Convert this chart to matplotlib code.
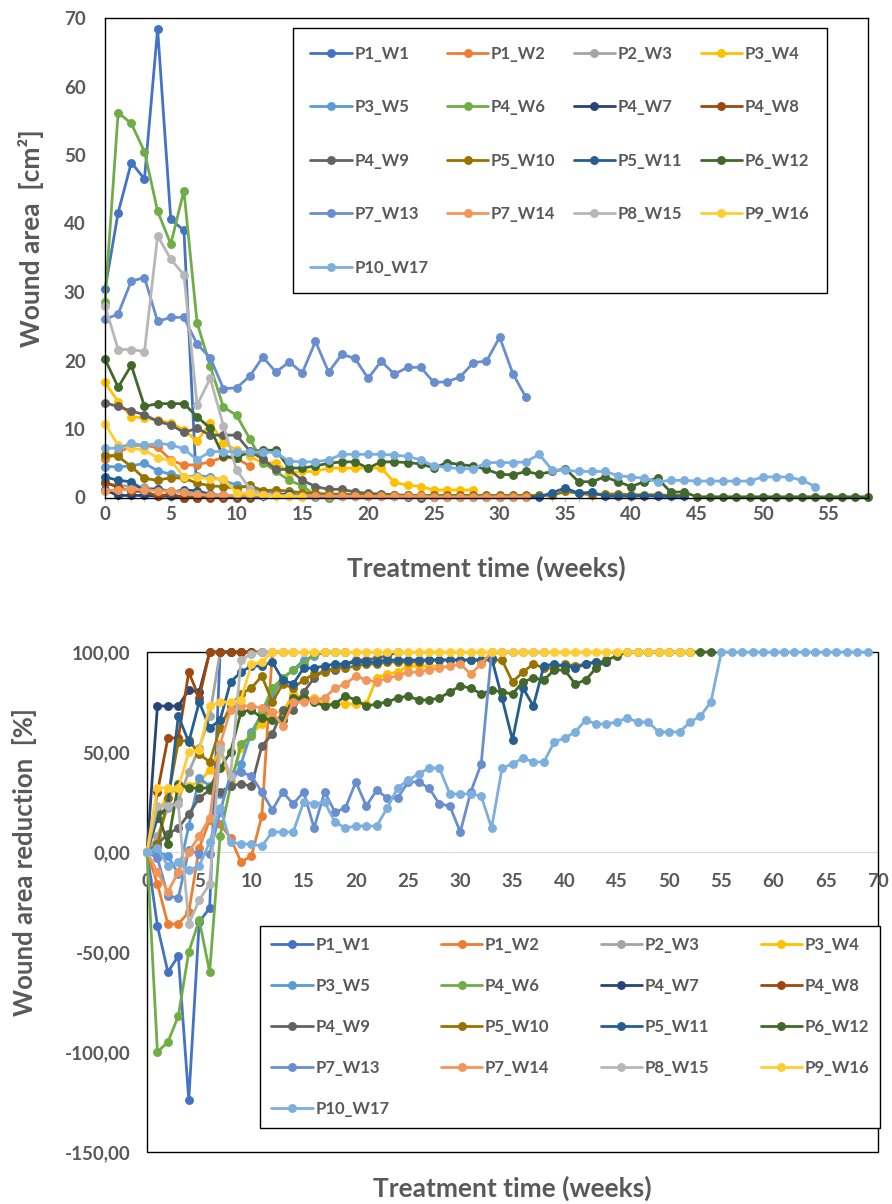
"""Wound area and wound area reduction per wound over treatment time (two stacked panels)."""
import matplotlib.pyplot as plt
from matplotlib.patches import Rectangle
from matplotlib.ticker import FuncFormatter, MultipleLocator

plt.rcParams["font.family"] = ["Lato", "DejaVu Sans"]
plt.rcParams["font.weight"] = "bold"

TEXT = "#595959"

LABELS = ["P1_W1", "P1_W2", "P2_W3", "P3_W4", "P3_W5", "P4_W6", "P4_W7", "P4_W8", "P4_W9",
          "P5_W10", "P5_W11", "P6_W12", "P7_W13", "P7_W14", "P8_W15", "P9_W16", "P10_W17"]
COLORS = ["#4472C4", "#ED7D31", "#A5A5A5", "#FFC000", "#5B9BD5", "#70AD47", "#264478", "#9E480E",
          "#636363", "#997300", "#255E91", "#43682B", "#698ED0", "#F1975A", "#B7B7B7", "#FFCD33",
          "#7CAFDD"]

# --- top panel: wound area [cm2] per observation (index = week) ---
AREA_P1_W1 = [30.4, 41.6, 48.9, 46.5, 68.4, 40.6, 39.0, 0.0]
AREA_P1_W2 = [5.6, 6.5, 7.6, 7.6, 7.3, 5.5, 4.7, 4.8, 5.2, 5.9, 5.7, 4.6]
AREA_P2_W3 = [2.0, 1.8, 1.6, 1.5, 1.2, 1.0, 0.6, 0.0]
AREA_P3_W4 = [16.8, 14.0, 11.8, 11.6, 11.3, 10.9, 9.9, 8.2, 10.9, 8.0,
              6.9, 6.0, 5.0, 5.1, 3.6, 3.8, 3.8, 4.3, 4.3, 4.3,
              4.3, 4.3, 2.2, 1.8, 1.6, 1.1, 1.1, 1.1, 1.1]
AREA_P3_W5 = [4.5, 4.5, 4.6, 5.0, 3.9, 3.4, 3.0, 3.2, 3.0, 2.5,
              1.8, 1.4, 1.0, 0.6, 0.4, 0.2, 0.1, 0.0]
AREA_P4_W6 = [28.6, 56.2, 54.6, 50.5, 41.8, 37.0, 44.8, 25.5, 19.2, 13.2,
              12.0, 8.6, 5.1, 3.8, 2.5, 1.7, 0.3, 0.0]
AREA_P4_W7 = [1.1, 0.3, 0.3, 0.3, 0.2, 0.2, 0.0]
AREA_P4_W8 = [2.2, 1.5, 0.9, 0.9, 0.2, 0.5, 0.0, 0.0, 0.0, 0.0, 0.0, 0.0]
AREA_P4_W9 = [13.8, 13.3, 12.6, 12.1, 11.1, 10.6, 9.5, 10.1, 9.1, 9.1,
              9.1, 6.8, 5.6, 4.1, 4.1, 2.5, 1.6, 1.2, 1.2, 0.8,
              0.6, 0.5, 0.4, 0.3, 0.0]
AREA_P5_W10 = [6.2, 6.0, 4.5, 2.8, 2.5, 2.9, 2.8, 2.1, 1.7, 1.6,
               1.3, 1.8, 1.0, 1.1, 0.9, 0.7, 0.6, 0.5, 0.5, 0.4,
               0.4, 0.3, 0.3, 0.3, 0.3, 0.3, 0.3, 0.3, 0.3, 0.3,
               0.3, 0.3, 0.3, 0.3, 0.3, 0.9, 0.6, 0.4, 0.5, 0.5,
               0.4, 0.4, 0.4, 0.3, 0.3]
AREA_P5_W11 = [3.0, 2.5, 2.3, 1.0, 1.3, 0.75, 1.1, 1.0, 0.45, 0.3,
               0.2, 0.2, 0.15, 0.4, 0.5, 0.25, 0.25, 0.2, 0.2, 0.2,
               0.15, 0.15, 0.15, 0.1, 0.1, 0.1, 0.1, 0.1, 0.1, 0.1,
               0.1, 0.1, 0.1, 0.1, 0.7, 1.4, 0.6, 0.8, 0.2, 0.2,
               0.2, 0.25, 0.2, 0.15, 0.15]
AREA_P6_W12 = [20.2, 16.1, 19.3, 13.3, 13.7, 13.7, 13.7, 11.8, 10.1, 6.0,
               5.8, 6.7, 6.9, 6.9, 4.3, 4.3, 4.6, 5.0, 5.2, 5.2,
               4.3, 5.2, 5.2, 5.1, 4.9, 4.3, 5.1, 4.8, 4.6, 4.1,
               3.4, 3.3, 3.8, 3.4, 3.8, 4.2, 2.3, 2.3, 3.0, 2.3,
               1.6, 2.3, 2.8, 0.8, 0.8, 0.1, 0.1, 0.1, 0.1, 0.1,
               0.1, 0.1, 0.1, 0.1, 0.1, 0.1, 0.1, 0.1, 0.1]
AREA_P7_W13 = [26.0, 26.8, 31.6, 32.1, 25.7, 26.3, 26.3, 22.4, 20.4, 15.9,
               16.0, 17.7, 20.5, 18.3, 19.8, 18.2, 22.8, 18.3, 20.9, 20.3,
               17.4, 19.9, 18.0, 19.0, 19.0, 16.8, 16.9, 17.6, 19.7, 19.9,
               23.4, 18.1, 14.6]
AREA_P7_W14 = [1.0, 1.1, 1.2, 1.1, 1.0, 0.9, 0.8, 0.5, 0.3, 0.3,
               0.3, 0.3, 0.35, 0.3, 0.25, 0.25, 0.25, 0.2, 0.2, 0.2,
               0.15, 0.15, 0.15, 0.15, 0.15, 0.1, 0.1, 0.1, 0.1, 0.1,
               0.1, 0.1, 0.1]
AREA_P8_W15 = [28.0, 21.6, 21.6, 21.3, 38.2, 34.8, 32.5, 13.5, 17.4, 10.5, 4.0, 1.3, 0.3]
AREA_P9_W16 = [10.8, 7.6, 7.2, 6.9, 5.8, 5.4, 3.0, 3.0, 2.7, 2.7,
               0.7, 0.6, 0.3, 0.2, 0.2, 0.1]
AREA_P10_W17 = [7.2, 7.2, 7.9, 7.6, 7.9, 7.7, 7.1, 5.5, 6.7, 6.7,
                6.7, 6.6, 6.7, 6.5, 5.3, 5.2, 5.2, 5.5, 6.3, 6.3,
                6.3, 6.3, 6.2, 6.0, 5.5, 4.6, 4.4, 4.2, 4.2, 5.1,
                5.1, 5.1, 5.2, 6.3, 4.0, 4.0, 3.8, 3.8, 3.8, 3.2,
                3.0, 2.8, 2.3, 2.5, 2.5, 2.4, 2.4, 2.4, 2.4, 2.4,
                3.0, 3.0, 3.0, 2.5, 1.6]

# --- bottom panel: wound area reduction [%] per week ---
RED_P1_W1 = [0, -37, -60, -52, -124, -35, -28, 100, 100, 100]
RED_P1_W2 = [0, -16, -36, -36, -30, 2, 16, 14, 7, -5, -2, 18, 100, 100, 100]
RED_P2_W3 = [0, 8, 22, 26, 40, 52, 68, 100, 100, 100, 100, 100, 100, 100, 100]
RED_P3_W4 = [0, 17, 30, 31, 33, 35, 41, 51, 35, 52,
             59, 64, 70, 70, 79, 77, 77, 74, 74, 74,
             74, 74, 87, 89, 90, 93, 93, 93, 93]
RED_P3_W5 = [0, 0, -2, -11, 13, 37, 33, 29, 33, 44,
             60, 69, 78, 87, 91, 96, 98, 100, 100, 100]
RED_P4_W6 = [0, -100, -95, -82, -50, -34, -60, 8, 33, 54,
             58, 70, 82, 87, 91, 94, 99, 100, 100, 100]
RED_P4_W7 = [0, 73, 73, 73, 81, 80, 100, 100, 100, 100, 100]
RED_P4_W8 = [0, 30, 57, 57, 90, 77, 100, 100, 100, 100, 100, 100]
RED_P4_W9 = [0, 4, 9, 12, 19, 27, 31, 30, 33, 34,
             33, 53, 59, 71, 71, 80, 87, 91, 91, 94,
             96, 96, 97, 98, 100]
RED_P5_W10 = [0, 3, 27, 55, 56, 49, 45, 62, 73, 79,
              82, 88, 75, 84, 82, 86, 89, 90, 92, 92,
              93, 94, 94, 95, 95, 95, 95, 96, 96, 96,
              96, 96, 96, 96, 96, 85, 90, 94, 92, 92,
              94, 93, 94, 95, 95]
RED_P5_W11 = [0, 17, 23, 68, 55, 75, 62, 66, 85, 90,
              93, 93, 95, 86, 84, 92, 92, 93, 94, 94,
              95, 95, 95, 96, 96, 96, 96, 96, 96, 96,
              96, 96, 96, 97, 77, 56, 82, 73, 93, 94,
              93, 92, 94, 95, 95]
RED_P6_W12 = [0, 20, 4, 34, 32, 32, 32, 42, 50, 70,
              71, 67, 66, 66, 77, 77, 75, 73, 74, 78,
              76, 73, 74, 75, 77, 78, 76, 76, 77, 80,
              83, 82, 79, 81, 80, 79, 85, 87, 86, 91,
              91, 84, 86, 92, 96, 98, 100, 100, 100, 100,
              100, 100, 100, 100, 100]
RED_P7_W13 = [0, -3, -22, -23, 1, -1, -1, 20, 39, 40,
              38, 30, 21, 30, 24, 30, 12, 30, 20, 22,
              35, 23, 31, 27, 27, 35, 35, 32, 24, 23,
              10, 30, 44, 100, 100, 100, 100, 100, 100]
RED_P7_W14 = [0, -10, -20, -10, 0, 8, 17, 54, 71, 73,
              73, 72, 70, 63, 75, 75, 76, 77, 82, 84,
              88, 86, 85, 87, 88, 90, 90, 91, 92, 93,
              94, 89, 94, 100]
RED_P8_W15 = [0, 23, 23, 24, -36, -24, -16, 52, 38, 96, 99, 100, 100, 100]
RED_P9_W16 = [0, 32, 32, 32, 50, 51, 73, 75, 75, 76,
              94, 95, 100, 100, 100, 100, 100, 100, 100, 100,
              100, 100, 100, 100, 100, 100, 100, 100, 100, 100,
              100, 100, 100, 100, 100, 100, 100, 100, 100, 100,
              100, 100, 100, 100, 100, 100, 100, 100, 100, 100,
              100, 100, 100]
RED_P10_W17 = [0, 2, -7, -5, -9, -7, 5, 22, 5, 4,
               4, 3, 10, 10, 10, 25, 24, 25, 15, 12,
               13, 13, 13, 22, 32, 36, 39, 42, 42, 29,
               29, 29, 28, 12, 42, 44, 47, 45, 45, 55,
               57, 60, 66, 64, 64, 65, 67, 65, 65, 60,
               60, 60, 65, 68, 75, 100, 100, 100, 100, 100,
               100, 100, 100, 100, 100, 100, 100, 100, 100, 100]

AREA = [AREA_P1_W1, AREA_P1_W2, AREA_P2_W3, AREA_P3_W4, AREA_P3_W5, AREA_P4_W6, AREA_P4_W7,
        AREA_P4_W8, AREA_P4_W9, AREA_P5_W10, AREA_P5_W11, AREA_P6_W12, AREA_P7_W13,
        AREA_P7_W14, AREA_P8_W15, AREA_P9_W16, AREA_P10_W17]
RED = [RED_P1_W1, RED_P1_W2, RED_P2_W3, RED_P3_W4, RED_P3_W5, RED_P4_W6, RED_P4_W7,
       RED_P4_W8, RED_P4_W9, RED_P5_W10, RED_P5_W11, RED_P6_W12, RED_P7_W13,
       RED_P7_W14, RED_P8_W15, RED_P9_W16, RED_P10_W17]

# Excel fills the legend row by row, matplotlib column by column
LEGEND_ORDER = [0, 4, 8, 12, 16, 1, 5, 9, 13, 2, 6, 10, 14, 3, 7, 11, 15]

W, H = 892, 1204


def add_lines(ax, data):
    for lab, col, vals in zip(LABELS, COLORS, data):
        ax.plot(range(len(vals)), vals, color=col, lw=2.0, marker="o", ms=5.4,
                label=lab, clip_on=False, solid_capstyle="round")


def add_legend(ax, anchor, spacing, pad):
    h, l = ax.get_legend_handles_labels()
    leg = ax.legend([h[i] for i in LEGEND_ORDER], [l[i] for i in LEGEND_ORDER], ncol=4,
                    loc="upper left", bbox_to_anchor=anchor, mode="expand", borderaxespad=0,
                    prop={"size": 12, "weight": "bold"}, labelcolor=TEXT,
                    handlelength=2.5, handletextpad=0.15, labelspacing=spacing,
                    columnspacing=1.0, borderpad=pad, fancybox=False, framealpha=1,
                    edgecolor="black")
    leg.get_frame().set_linewidth(1.0)
    return leg


fig = plt.figure(figsize=(W / 100, H / 100), dpi=100)

# (1) wound area
ax = fig.add_axes([105 / W, 1 - 497.5 / H, (868 - 105) / W, 479.5 / H])
add_lines(ax, AREA)
ax.set_xlim(0, 58)
ax.set_ylim(0, 70)
ax.xaxis.set_major_locator(MultipleLocator(5))
ax.xaxis.set_minor_locator(MultipleLocator(1))
ax.yaxis.set_major_locator(MultipleLocator(10))
ax.tick_params(axis="x", which="both", direction="out", length=3, color="#BFBFBF", pad=3)
ax.tick_params(axis="y", length=0, pad=14)
ax.tick_params(labelsize=13.5, labelcolor=TEXT)
for s in ax.spines.values():
    s.set_color("black")
    s.set_linewidth(1.0)
ax.set_xlabel("Treatment time (weeks)", fontsize=19, color=TEXT, fontweight="bold")
ax.xaxis.set_label_coords(0.5, -0.122)
ax.set_ylabel("Wound area  [cm\u00b2]", fontsize=19, color=TEXT, fontweight="bold")
ax.yaxis.set_label_coords(-0.08, 0.54)
add_legend(ax, (0.246, 0.979, 0.70, 0), 2.25, 1.05)

# (2) wound area reduction
ax2 = fig.add_axes([147 / W, 1 - 1152 / H, (878 - 147) / W, 500 / H])
add_lines(ax2, RED)
ax2.set_xlim(0, 70)
ax2.set_ylim(-150, 100)
ax2.xaxis.set_major_locator(MultipleLocator(5))
ax2.yaxis.set_major_locator(MultipleLocator(50))
ax2.yaxis.set_major_formatter(FuncFormatter(lambda v, _: f"{v:.2f}".replace(".", ",")))
for side in ["top", "right", "left"]:
    ax2.spines[side].set_visible(False)
ax2.spines["bottom"].set_position(("data", 0))
ax2.spines["bottom"].set_color("#D9D9D9")
ax2.spines["bottom"].set_zorder(0.5)
ax2.add_patch(Rectangle((0, 0), 1, 1, transform=ax2.transAxes, fill=False,
                        ec="black", lw=1.0, clip_on=False, zorder=0.6))
ax2.tick_params(axis="x", length=0, pad=15)
ax2.tick_params(axis="y", length=0, pad=12)
ax2.tick_params(labelsize=13.5, labelcolor=TEXT)
ax2.set_xlabel("Treatment time (weeks)", fontsize=19, color=TEXT, fontweight="bold")
ax2.xaxis.set_label_coords(0.5, -0.048)
ax2.set_ylabel("Wound area reduction  [%]", fontsize=18.5, color=TEXT, fontweight="bold")
ax2.yaxis.set_label_coords(-0.15, 0.58)
add_legend(ax2, (0.155, 0.452, 0.848, 0), 1.5, 0.65)

fig.savefig("out.png", dpi=100)
